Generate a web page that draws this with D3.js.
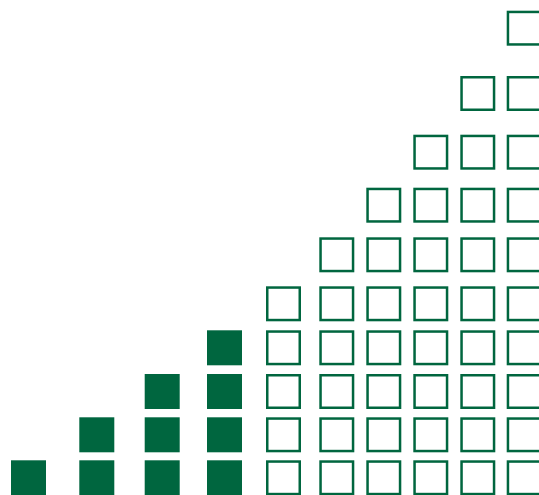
<!DOCTYPE html>
<html>
<head>
<meta charset="utf-8">
<script src="https://cdn.jsdelivr.net/npm/d3@7"></script>
<style>
  html, body { margin: 0; padding: 0; background: #fff; overflow: hidden; }
</style>
</head>
<body>
<div id="chart"></div>
<script>
// data: how many squares stack in each column, and which columns are solid
var columns = [1, 2, 3, 4, 5, 6, 7, 8, 9, 10];
var counts  = [1, 2, 3, 4, 5, 6, 7, 8, 9, 10];
var filled  = [true, true, true, true, false, false, false, false, false, false];

var width = 539, height = 495;
var size = 35, stroke = 2.5;
var green = "#00663f";

var svg = d3.select("#chart")
  .append("svg")
    .attr("width", width)
    .attr("height", height);

// the picture spaces columns and rows unevenly, so use piecewise scales
var x = d3.scaleLinear()
  .domain(d3.range(1, 11))
  .range([28.5, 96.8, 162.2, 224.5, 283.5, 336.8, 383.8, 430.8, 477.8, 524.2]);

var y = d3.scaleLinear()
  .domain(d3.range(1, 11))
  .range([477.8, 434.8, 391.5, 347.8, 303.8, 254.8, 205.2, 152.2, 93.5, 28.2]);

// one cell per square
var cells = [];
columns.forEach(function(c, i) {
  d3.range(1, counts[i] + 1).forEach(function(r) {
    cells.push({ col: c, row: r, solid: filled[i] });
  });
});

svg.selectAll("rect.solid")
  .data(cells.filter(function(d) { return d.solid; }))
  .enter()
  .append("rect")
    .attr("class", "solid")
    .attr("x", function(d) { return x(d.col) - size / 2; })
    .attr("y", function(d) { return y(d.row) - size / 2; })
    .attr("width", size)
    .attr("height", size)
    .attr("fill", green);

var inner = size - stroke;
svg.selectAll("rect.empty")
  .data(cells.filter(function(d) { return !d.solid; }))
  .enter()
  .append("rect")
    .attr("class", "empty")
    .attr("x", function(d) { return x(d.col) - inner / 2; })
    .attr("y", function(d) { return y(d.row) - inner / 2; })
    .attr("width", inner)
    .attr("height", inner)
    .attr("fill", "none")
    .attr("stroke", green)
    .attr("stroke-width", stroke);
</script>
</body>
</html>
